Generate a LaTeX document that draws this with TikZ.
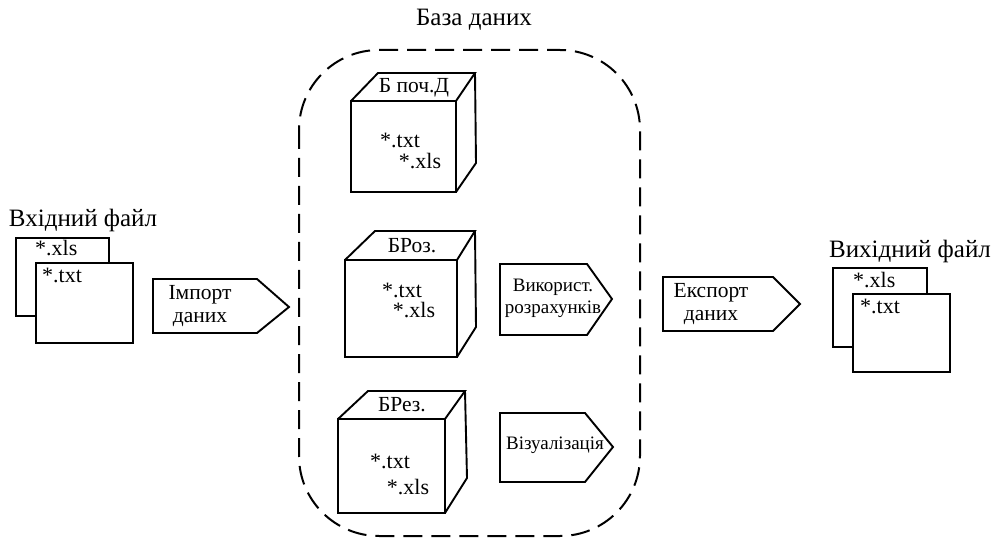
\documentclass[tikz,border=0pt]{standalone}
\usepackage{fontspec}
\setmainfont{Liberation Serif}
\begin{document}
\begin{tikzpicture}[x=1pt,y=-1pt,
  ln/.style={line width=1.9pt, line join=miter},
  lbl/.style={inner sep=0pt, font=\fontsize{25}{27}\selectfont},
  txt/.style={inner sep=0pt, font=\fontsize{22}{24}\selectfont},
  ctl/.style={inner sep=0pt, font=\fontsize{21.5}{23}\selectfont},
  sig/.style={inner sep=0pt, font=\fontsize{21.5}{23}\selectfont, align=center},
  sigs/.style={inner sep=0pt, font=\fontsize{19}{22}\selectfont, align=center},
  dbox/.style={line width=2pt, dash pattern=on 19pt off 9pt, rounded corners=80pt}]
\useasboundingbox (0,0) rectangle (994,540);

% title and database container
\node[lbl] (dbtitle) at (474,20) {База даних};
\draw[dbox] (299,50) rectangle (640,536);

% input files
\node[lbl] (intitle) at (83,220) {Вхідний файл};
\draw[ln, fill=white] (16,238) rectangle (109,316);
\draw[ln, fill=white] (36,263) rectangle (133,343);
\node[txt, anchor=west] (inxls) at (35,248) {*.xls};
\node[txt, anchor=west] (intxt) at (42,275) {*.txt};

% output files
\node[lbl] (outtitle) at (910,251) {Вихідний файл};
\draw[ln, fill=white] (833,268) rectangle (927,347);
\draw[ln, fill=white] (853,294) rectangle (950,372);
\node[txt, anchor=west] (outxls) at (853,280) {*.xls};
\node[txt, anchor=west] (outtxt) at (860,306) {*.txt};

% signal shapes
\draw[ln] (153,279) -- (257,279) -- (289,307) -- (257,333) -- (153,333) -- cycle;
\node[sig] (imp) at (200,306) {Імпорт\\даних};
\draw[ln] (500,264) -- (587,264) -- (612,299) -- (587,335) -- (500,335) -- cycle;
\node[sigs] (use) at (553,298) {Використ.\\розрахунків};
\draw[ln] (663,277) -- (773,277) -- (800,304) -- (773,331) -- (663,331) -- cycle;
\node[sig] (exp) at (711,304) {Експорт\\даних};
\draw[ln] (500,413) -- (585,413) -- (613,447) -- (585,482) -- (500,482) -- cycle;
\node[sigs] (vis) at (555,445) {Візуалізація};

% cube 1
\draw[ln] (351,101) rectangle (456,192);
\draw[ln] (351,101) -- (378,73) -- (475,73) -- (456,101);
\draw[ln] (475,73) -- (476,163) -- (456,192);
\node[ctl] (c1t) at (414,88) {Б поч.Д};
\node[txt] (c1a) at (400,140) {*.txt};
\node[txt] (c1b) at (420,161) {*.xls};

% cube 2
\draw[ln] (345,260) rectangle (457,357);
\draw[ln] (345,260) -- (375,231) -- (475,231) -- (457,260);
\draw[ln] (475,231) -- (476,327) -- (457,357);
\node[ctl] (c2t) at (412,246) {БРоз.};
\node[txt] (c2a) at (402,290) {*.txt};
\node[txt] (c2b) at (414,310) {*.xls};

% cube 3
\draw[ln] (338,419) rectangle (445,513);
\draw[ln] (338,419) -- (368,391) -- (465,391) -- (445,419);
\draw[ln] (465,391) -- (467,478) -- (445,513);
\node[ctl] (c3t) at (402,405) {БРез.};
\node[txt] (c3a) at (390,461) {*.txt};
\node[txt] (c3b) at (408,487) {*.xls};
\end{tikzpicture}
\end{document}
